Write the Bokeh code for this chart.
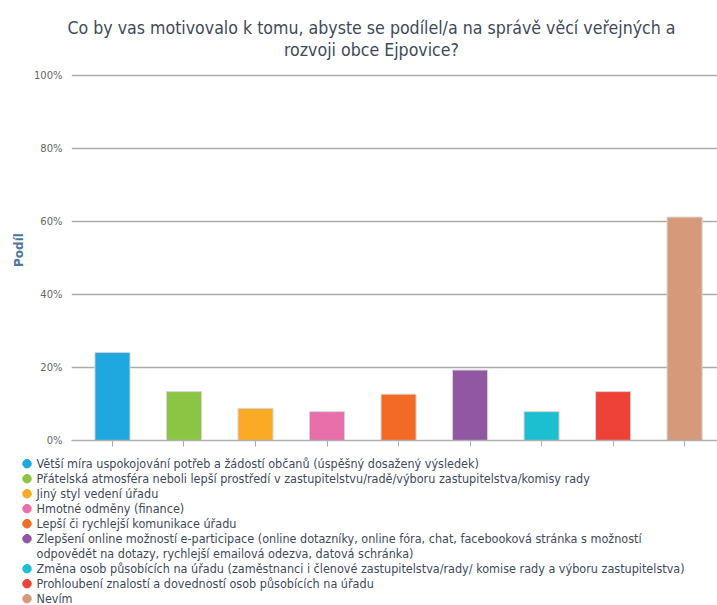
from bokeh.plotting import figure
from bokeh.layouts import column
from bokeh.models import (Range1d, FixedTicker, Title, ColumnDataSource,
                          CustomJSTickFormatter)
from bokeh.core.properties import value
from bokeh.embed import file_html
from bokeh.resources import INLINE

title_lines = ["Co by vas motivovalo k tomu, abyste se podílel/a na správě věcí veřejných a",
               "rozvoji obce Ejpovice?"]
categories = [
    "Větší míra uspokojování potřeb a žádostí občanů (úspěšný dosažený výsledek)",
    "Přátelská atmosféra neboli lepší prostředí v zastupitelstvu/radě/výboru zastupitelstva/komisy rady",
    "Jiný styl vedení úřadu",
    "Hmotné odměny (finance)",
    "Lepší či rychlejší komunikace úřadu",
    "Zlepšení online možností e-participace (online dotazníky, online fóra, chat, facebooková stránka s možností\nodpovědět na dotazy, rychlejší emailová odezva, datová schránka)",
    "Změna osob působících na úřadu (zaměstnanci i členové zastupitelstva/rady/ komise rady a výboru zastupitelstva)",
    "Prohloubení znalostí a dovedností osob působících na úřadu",
    "Nevím",
]
values = [24.1, 13.4, 8.8, 7.9, 12.7, 19.3, 7.9, 13.4, 61.2]
colors = ["#1fa8e0", "#8cc544", "#fbaa26", "#e86fa9", "#f26a23",
          "#9257a2", "#1bbfd0", "#ee4137", "#d6997a"]
y_ticks = [0, 20, 40, 60, 80, 100]
y_axis_title = "Podíl"

FONT = "DejaVu Sans Condensed"
TEXT_COLOR = "#3e4a5a"

xs = list(range(len(categories)))
src = ColumnDataSource(dict(x=xs, top=values, color=colors))

p = figure(width=717, height=470, output_backend="svg", toolbar_location=None,
           x_range=Range1d(-0.573, 8.46), y_range=Range1d(0, 104.38),
           min_border_left=71, min_border_right=0, min_border_top=59,
           min_border_bottom=30)
p.outline_line_color = None

p.vbar(x="x", top="top", width=0.49, bottom=0, fill_color="color",
       line_color="#d4d4d4", line_width=1, source=src)

# two-line title: second line nearest the frame
t2 = Title(text=title_lines[1], align="left", offset=212.5, standoff=0,
           text_font=FONT, text_font_size="17.6px", text_color=TEXT_COLOR,
           text_font_style="normal")
t1 = Title(text=title_lines[0], align="left", offset=-4, standoff=0,
           text_font=FONT, text_font_size="17.6px", text_color=TEXT_COLOR,
           text_font_style="normal")
p.add_layout(t2, "above")
p.add_layout(t1, "above")

# y axis
p.yaxis.ticker = FixedTicker(ticks=y_ticks)
p.yaxis.formatter = CustomJSTickFormatter(code="return tick + '%';")
p.yaxis.axis_line_color = None
p.yaxis.major_tick_line_color = None
p.yaxis.major_tick_out = 0
p.yaxis.major_tick_in = 0
p.yaxis.minor_tick_line_color = None
p.yaxis.major_label_text_font = "DejaVu Sans"
p.yaxis.major_label_text_font_size = "10px"
p.yaxis.major_label_text_color = "#666666"
p.yaxis.major_label_standoff = 9
p.yaxis.axis_label = y_axis_title
p.yaxis.axis_label_text_font = "DejaVu Sans"
p.yaxis.axis_label_text_font_size = "12px"
p.yaxis.axis_label_text_font_style = "bold"
p.yaxis.axis_label_text_color = "#4d759e"
p.yaxis.axis_label_standoff = 5

# x axis (ticks only)
p.xaxis.ticker = FixedTicker(ticks=xs)
p.xaxis.formatter = CustomJSTickFormatter(code="return '';")
p.xaxis.major_label_standoff = 0
p.xaxis.axis_line_color = "#b0b0b0"
p.xaxis.axis_line_width = 1.5
p.xaxis.major_tick_line_color = "#b0b0b0"
p.xaxis.major_tick_in = 0
p.xaxis.major_tick_out = 6
p.xaxis.minor_tick_line_color = None

p.xgrid.grid_line_color = None
p.ygrid.ticker = FixedTicker(ticks=y_ticks)
p.ygrid.grid_line_color = "#ababab"
p.ygrid.grid_line_width = 1.5

# legend strip (transparent, overlapping the empty bottom of the chart)
LEG_TOP = 445
lg = figure(width=717, height=160, output_backend="svg", toolbar_location=None,
            x_range=Range1d(0, 717), y_range=Range1d(160, 0),
            x_axis_location=None, y_axis_location=None,
            min_border=0, margin=(LEG_TOP - 470, 0, 0, 0))
lg.grid.visible = False
lg.outline_line_color = None
lg.background_fill_color = None
lg.border_fill_color = None
for fig in (p, lg):
    try:
        fig.frame_align = False
    except Exception:
        pass

ROW0, PITCH = 463.2 - LEG_TOP, 15.0
mk_x, mk_y, mk_c = [], [], []
tx_x, tx_y, tx_t = [], [], []
line = 0
for c, lab in zip(colors, categories):
    for j, part in enumerate(lab.split("\n")):
        yy = ROW0 + PITCH * line
        if j == 0:
            mk_x.append(26.5); mk_y.append(yy); mk_c.append(c)
        tx_x.append(36); tx_y.append(yy); tx_t.append(part)
        line += 1

lg.scatter(x=mk_x, y=mk_y, color=mk_c, size=8.5, marker="circle")
lg.text(x=tx_x, y=tx_y, text=tx_t, text_font=value(FONT),
        text_font_size=value("12.5px"), text_baseline="middle",
        text_align="left", text_color=TEXT_COLOR)

layout = column(p, lg, spacing=0)
open("out.html", "w").write(file_html(layout, INLINE))
